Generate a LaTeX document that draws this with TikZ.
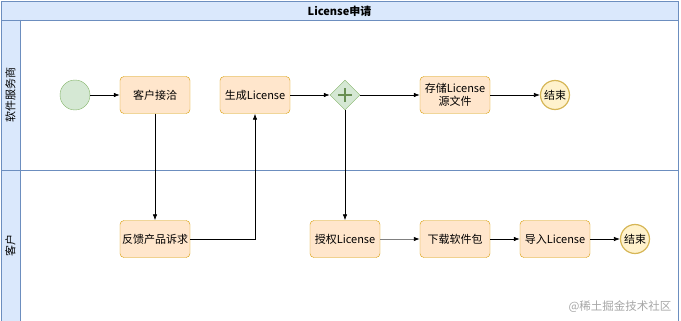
\documentclass[tikz,border=0pt]{standalone}
\usepackage{fontspec}
\usepackage{xcolor}
\usepackage{tikz}
\usetikzlibrary{arrows.meta,calc,shapes.geometric}
\newfontfamily\cjk{Noto Sans CJK SC}
\definecolor{laneFill}{HTML}{DAE8FC}
\definecolor{laneLine}{HTML}{6C8EBF}
\definecolor{taskFill}{HTML}{FFE6CC}
\definecolor{taskLine}{HTML}{D79B00}
\definecolor{startFill}{HTML}{D5E8D4}
\definecolor{startLine}{HTML}{82B366}
\definecolor{endFill}{HTML}{FFF2CC}
\definecolor{endLine}{HTML}{D6B656}
\tikzset{
  task/.style = {draw=taskLine, fill=taskFill, rounded corners=4pt,
    minimum width=70pt, minimum height=37pt, inner sep=1pt, align=center,
    font=\cjk\fontsize{11}{12.5}\selectfont},
  startev/.style = {circle, draw=startLine, fill=startFill, minimum size=30pt},
  endev/.style = {circle, draw=endLine, fill=endFill, line width=1.2pt,
    minimum size=29pt, inner sep=0pt, font=\cjk\fontsize{11}{12.5}\selectfont},
  gateway/.style = {diamond, aspect=1, draw=startLine, fill=startFill,
    minimum width=30pt, minimum height=30pt, inner sep=0pt},
  flow/.style = {-{Latex[length=6pt,width=4.5pt]}, line width=0.7pt},
  lane/.style = {draw=laneLine, line width=0.8pt},
  lanetitle/.style = {rotate=90, font=\cjk\fontsize{11}{12.5}\selectfont}
}

\begin{document}
\begin{tikzpicture}[x=1pt, y=-1pt]
  \useasboundingbox (0,0) rectangle (681,321);

  % pool and lanes
  \fill[laneFill] (1,1) rectangle (678,20);
  \fill[laneFill] (1,20) rectangle (20,321);
  \draw[lane] (1,321) -- (1,1) -- (678,1) -- (678,321);
  \draw[lane] (1,20) -- (678,20);
  \draw[lane] (20,20) -- (20,321);
  \draw[lane] (1,170) -- (678,170);
  \node[font=\cjk\bfseries\fontsize{11}{12.5}\selectfont] (title) at (339.5,11) {License申请};
  \node[lanetitle] (vendor) at (10.5,95) {软件服务商};
  \node[lanetitle] (client) at (10.5,245) {客户};

  % lane 1
  \node[startev] (start) at (75,95) {};
  \node[task] (contact) at (155,95) {客户接洽};
  \node[task] (gen) at (255,95) {生成License};
  \node[gateway] (gw) at (345,95) {};
  \draw[startLine!80!black, line width=2pt]
    ([xshift=-7pt]gw.center) -- ([xshift=7pt]gw.center)
    ([yshift=-7pt]gw.center) -- ([yshift=7pt]gw.center);
  \node[task] (store) at (455,95) {存储License\\源文件};
  \node[endev] (end1) at (555,95) {结束};

  % lane 2
  \node[task] (feedback) at (155,239) {反馈产品诉求};
  \node[task] (grant) at (345,239) {授权License};
  \node[task] (download) at (455,239) {下载软件包};
  \node[task] (import) at (555,239) {导入License};
  \node[endev] (end2) at (635,239) {结束};

  % flows
  \draw[flow] (start) -- (contact);
  \draw[flow] (contact) -- (feedback);
  \draw[flow] (feedback) -| (gen);
  \draw[flow] (gen) -- (gw);
  \draw[flow] (gw) -- (store);
  \draw[flow] (store) -- (end1);
  \draw[flow] (gw) -- (grant);
  \draw[-{Latex[length=6pt,width=4.5pt,color=black]}, line width=0.9pt, draw=gray] (grant) -- (download);
  \draw[flow] (download) -- (import);
  \draw[flow] (import) -- (end2);

  % watermark
  \node[text=gray!70, font=\cjk\fontsize{11.5}{13}\selectfont, anchor=east] (mark) at (675,307) {@稀土掘金技术社区};
\end{tikzpicture}
\end{document}
